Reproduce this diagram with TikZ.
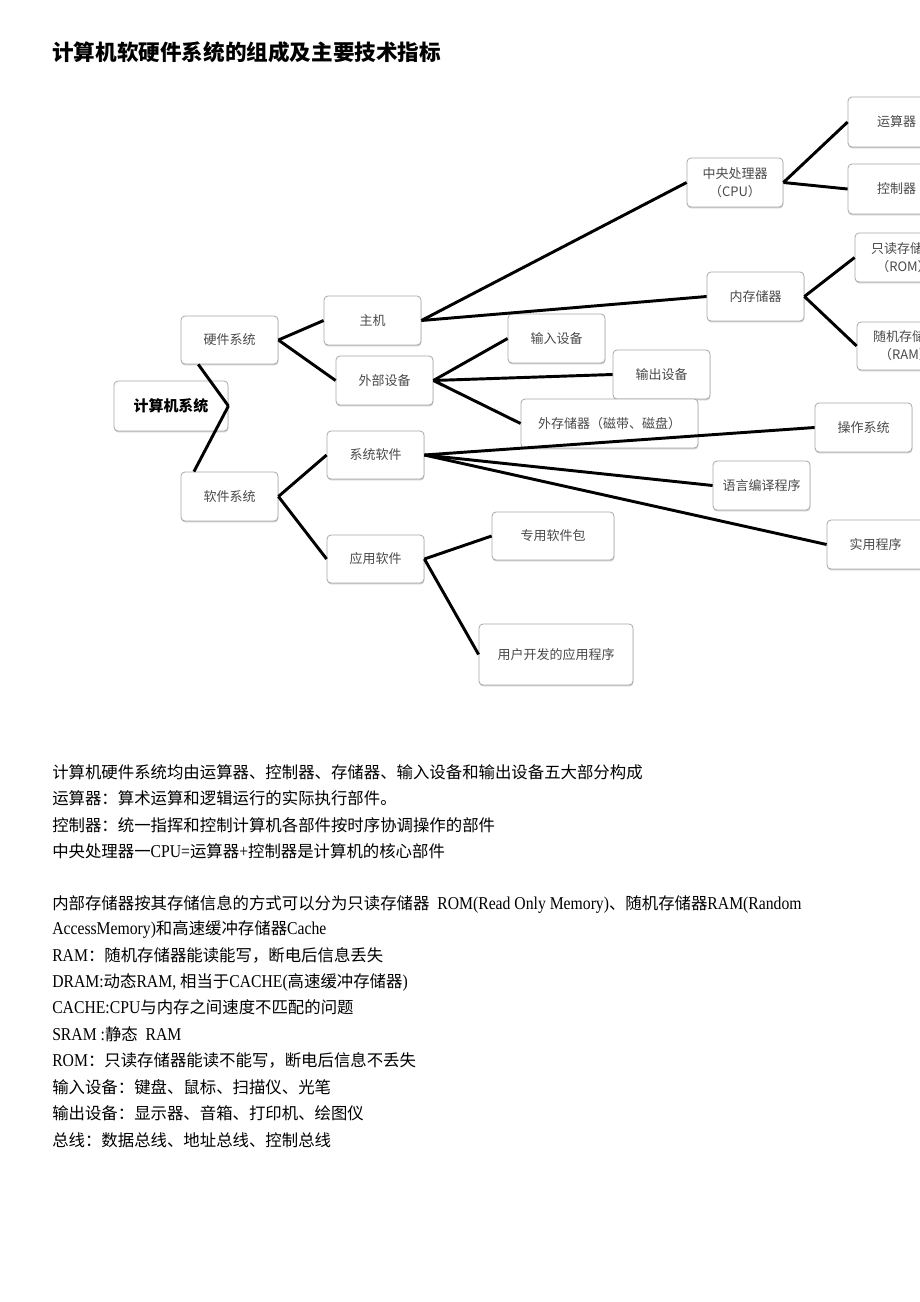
\documentclass[tikz,border=0pt]{standalone}
\usepackage{fontspec}
\setmainfont{Noto Sans CJK SC}
\newfontfamily\lat[Scale=1.1,FakeStretch=0.87]{Liberation Serif}
\newcommand\la[1]{{\lat #1}}
\usetikzlibrary{shadows}
\definecolor{boxdraw}{HTML}{A8A8A8}
\definecolor{boxtext}{HTML}{4A4A4A}
\begin{document}
\begin{tikzpicture}[x=0.75pt,y=-0.75pt,
  bx/.style 2 args={rectangle, rounded corners=3pt, draw=boxdraw, line width=0.6pt, fill=white,
    minimum width=#1*0.75pt, minimum height=#2*0.75pt, inner sep=0pt, align=center,
    text=boxtext, font=\fontsize{9.75}{13.5}\selectfont,
    drop shadow={shadow xshift=0.3pt, shadow yshift=-1.1pt, opacity=0.35, fill=black!55}},
  link/.style={line width=2.2pt, draw=black},
  body/.style={anchor=base west, inner sep=0pt, text=black, font=\fontsize{12.3}{15}\selectfont}]
\clip (0,0) rectangle (920,1302);
\fill[white] (0,0) rectangle (920,1302);

% title
\node[anchor=base west, inner sep=0pt, font=\fontsize{16.2}{20}\selectfont\bfseries] (title) at (52,61) {计算机软硬件系统的组成及主要技术指标};

% boxes
\node[bx={114}{50}, text=black, font=\fontsize{11.2}{14}\selectfont\bfseries] (root) at (171,406) {计算机系统};
\node[bx={97}{48}] (hw) at (229.5,340) {硬件系统};
\node[bx={97}{49}] (sw) at (229.5,496.5) {软件系统};
\node[bx={97}{49}] (host) at (372.5,320.5) {主机};
\node[bx={97}{49}] (periph) at (384.5,380.5) {外部设备};
\node[bx={97}{48}] (syssw) at (375.5,455) {系统软件};
\node[bx={97}{48}] (appsw) at (375.5,559) {应用软件};
\node[bx={96}{49}] (cpu) at (735,182.5) {中央处理器\\（CPU）};
\node[bx={97}{49}] (mem) at (755.5,296.5) {内存储器};
\node[bx={97}{49}] (in) at (556.5,338.5) {输入设备};
\node[bx={97}{49}] (out) at (661.5,374.5) {输出设备};
\node[bx={177}{49}] (ext) at (609.5,423.5) {外存储器（磁带、磁盘）};
\node[bx={97}{50}] (alu) at (896.5,122) {运算器};
\node[bx={97}{50}] (ctl) at (896.5,189) {控制器};
\node[bx={97}{49}] (rom) at (903.5,257.5) {只读存储器\\（ROM）};
\node[bx={97}{48}] (ram) at (905.5,346) {随机存储器\\（RAM）};
\node[bx={97}{49}] (os) at (863.5,427.5) {操作系统};
\node[bx={97}{49}] (lang) at (761.5,485.5) {语言编译程序};
\node[bx={97}{49}] (util) at (875.5,544.5) {实用程序};
\node[bx={122}{48}] (pkg) at (553,536) {专用软件包};
\node[bx={154}{61}] (user) at (556,654.5) {用户开发的应用程序};

% connectors
\draw[link] (root.east) -- (hw.-142);
\draw[link] (root.east) -- (sw.145);
\draw[link] (hw.east) -- (host.west);
\draw[link] (hw.east) -- (periph.west);
\draw[link] (host.east) -- (cpu.west);
\draw[link] (host.east) -- (mem.west);
\draw[link] (periph.east) -- (in.west);
\draw[link] (periph.east) -- (out.west);
\draw[link] (periph.east) -- (ext.west);
\draw[link] (cpu.east) -- (alu.west);
\draw[link] (cpu.east) -- (ctl.west);
\draw[link] (mem.east) -- (rom.west);
\draw[link] (mem.east) -- (ram.west);
\draw[link] (sw.east) -- (syssw.west);
\draw[link] (sw.east) -- (appsw.west);
\draw[link] (syssw.east) -- (os.west);
\draw[link] (syssw.east) -- (lang.west);
\draw[link] (syssw.east) -- (util.west);
\draw[link] (appsw.east) -- (pkg.west);
\draw[link] (appsw.east) -- (user.west);

% body text
\node[body] (t1) at (52,778) {计算机硬件系统均由运算器、控制器、存储器、输入设备和输出设备五大部分构成};
\node[body] (t2) at (52,804) {运算器：算术运算和逻辑运行的实际执行部件。};
\node[body] (t3) at (52,831) {控制器：统一指挥和控制计算机各部件按时序协调操作的部件};
\node[body] (t4) at (52,857) {中央处理器一\la{CPU=}运算器\la{+}控制器是计算机的核心部件};
\node[body] (t5) at (52,909) {内部存储器按其存储信息的方式可以分为只读存储器\la{\ \ ROM(Read Only Memory)}、随机存储器\la{RAM(Random}};
\node[body] (t6) at (52,934) {\la{AccessMemory)}和高速缓冲存储器\la{Cache}};
\node[body] (t7) at (52,961) {\la{RAM}：随机存储器能读能写，断电后信息丢失};
\node[body] (t8) at (52,987) {\la{DRAM:}动态\la{RAM, }相当于\la{CACHE(}高速缓冲存储器\la{)}};
\node[body] (t9) at (52,1013) {\la{CACHE:CPU}与内存之间速度不匹配的问题};
\node[body] (t10) at (52,1040) {\la{SRAM :}静态\la{\ \ RAM}};
\node[body] (t11) at (52,1066) {\la{ROM}：只读存储器能读不能写，断电后信息不丢失};
\node[body] (t12) at (52,1093) {输入设备：键盘、鼠标、扫描仪、光笔};
\node[body] (t13) at (52,1119) {输出设备：显示器、音箱、打印机、绘图仪};
\node[body] (t14) at (52,1146) {总线：数据总线、地址总线、控制总线};
\end{tikzpicture}
\end{document}
